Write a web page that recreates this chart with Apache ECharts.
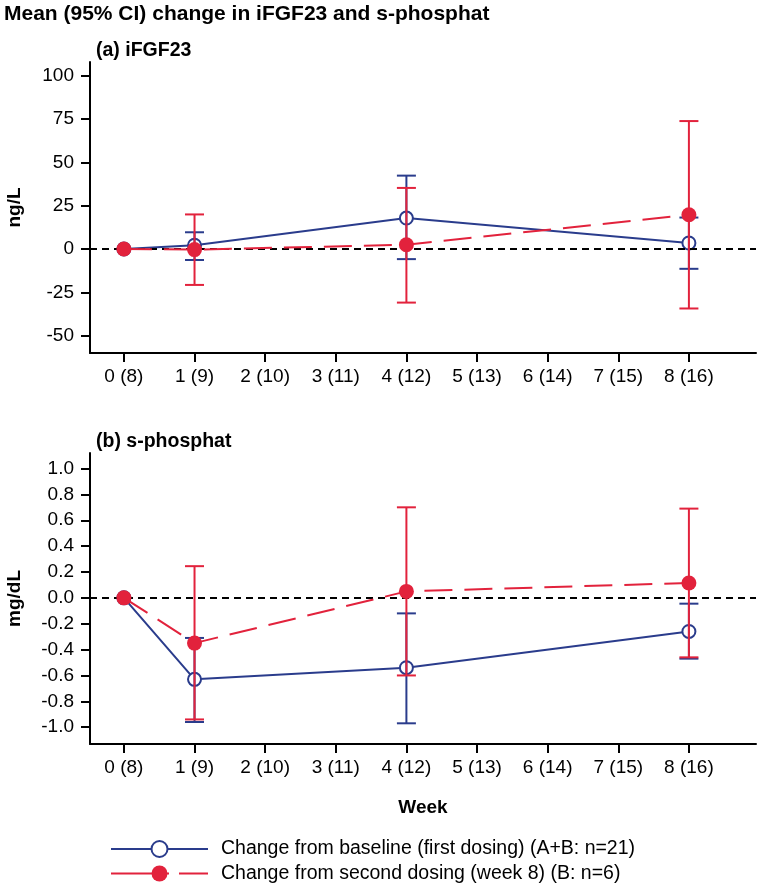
<!DOCTYPE html>
<html><head><meta charset="utf-8">
<script src="https://cdn.jsdelivr.net/npm/echarts@6/dist/echarts.min.js"></script>
<style>html,body{margin:0;padding:0;background:#fff}#c{width:760px;height:885px}</style>
</head><body><div id="c"></div>
<script>
// ---- data ----
const weeks = [0, 1, 4, 8];
const weekTicks = [0, 1, 2, 3, 4, 5, 6, 7, 8];
const weekLabels = ['0 (8)', '1 (9)', '2 (10)', '3 (11)', '4 (12)', '5 (13)', '6 (14)', '7 (15)', '8 (16)'];
const fgfTicks = [-50, -25, 0, 25, 50, 75, 100];
const phosTicks = [-1.0, -0.8, -0.6, -0.4, -0.2, 0, 0.2, 0.4, 0.6, 0.8, 1.0];
const seriesNames = ['Change from baseline (first dosing) (A+B: n=21)', 'Change from second dosing (week 8) (B: n=6)'];

const fgfBaseMean = [0, 2.2, 17.9, 3.5];
const fgfBaseLow = [null, -6.3, -5.8, -11.4];
const fgfBaseHigh = [null, 9.7, 42.4, 18.2];
const fgfSecMean = [0, -0.3, 2.5, 19.8];
const fgfSecLow = [null, -20.7, -30.9, -34.3];
const fgfSecHigh = [null, 20.0, 35.3, 73.9];

const phosBaseMean = [0, -0.63, -0.54, -0.26];
const phosBaseLow = [null, -0.96, -0.97, -0.47];
const phosBaseHigh = [null, -0.31, -0.12, -0.045];
const phosSecMean = [0, -0.35, 0.05, 0.115];
const phosSecLow = [null, -0.94, -0.60, -0.46];
const phosSecHigh = [null, 0.245, 0.70, 0.69];

// ---- style ----
const FONT = '"Liberation Sans", Arial, sans-serif';
const BLUE = '#2a3c8c';
const RED = '#e2223c';

function pts(mean) { return weeks.map((w, i) => [w, mean[i]]); }
function errs(lo, hi) {
  const out = [];
  weeks.forEach((w, i) => { if (lo[i] != null) out.push([w, lo[i], hi[i]]); });
  return out;
}
function errRender(color) {
  return function (params, api) {
    const x = api.value(0), lo = api.value(1), hi = api.value(2);
    const p1 = api.coord([x, lo]), p2 = api.coord([x, hi]);
    const hw = 9.5;
    const style = { stroke: color, lineWidth: 2, fill: null };
    return { type: 'group', children: [
      { type: 'line', shape: { x1: p1[0], y1: p1[1], x2: p2[0], y2: p2[1] }, style: style },
      { type: 'line', shape: { x1: p1[0] - hw, y1: p1[1], x2: p1[0] + hw, y2: p1[1] }, style: style },
      { type: 'line', shape: { x1: p2[0] - hw, y1: p2[1], x2: p2[0] + hw, y2: p2[1] }, style: style }
    ]};
  };
}

function xAxis(gi) {
  return {
    type: 'value', gridIndex: gi, min: -0.48, max: 8.95,
    name: gi === 1 ? 'Week' : '', nameLocation: 'middle', nameGap: 54,
    nameTextStyle: { fontFamily: FONT, fontSize: 19, fontWeight: 'bold', color: '#000' },
    axisLine: { onZero: false, lineStyle: { color: '#000', width: 2 } },
    axisTick: { show: true, length: 9, lineStyle: { color: '#000', width: 2 }, customValues: weekTicks },
    axisLabel: { margin: 14, fontFamily: FONT, fontSize: 19, color: '#000', customValues: weekTicks,
      formatter: v => weekLabels[weekTicks.indexOf(Math.round(v))] || '' },
    splitLine: { show: false }
  };
}
function yAxis(gi, min, max, ticks, name, fmt) {
  return {
    type: 'value', gridIndex: gi, min: min, max: max,
    name: name, nameLocation: 'middle', nameGap: 66,
    nameTextStyle: { fontFamily: FONT, fontSize: 19, fontWeight: 'bold', color: '#000' },
    axisLine: { show: true, onZero: false, lineStyle: { color: '#000', width: 2 } },
    axisTick: { show: true, length: 9, lineStyle: { color: '#000', width: 2 }, customValues: ticks },
    axisLabel: { margin: 16, fontFamily: FONT, fontSize: 19, color: '#000', customValues: ticks, formatter: fmt },
    splitLine: { show: false }
  };
}

function lineSeries(name, gi, mean, color, isBase) {
  const s = {
    type: 'line', name: name, xAxisIndex: gi, yAxisIndex: gi,
    data: pts(mean), z: isBase ? 3 : 6,
    lineStyle: { color: color, width: 2, type: isBase ? 'solid' : [28, 12] },
    symbol: isBase ? 'emptyCircle' : 'circle',
    symbolSize: isBase ? 13 : 15,
    itemStyle: isBase ? { color: color, borderWidth: 2 } : { color: color, borderWidth: 0 },
    animation: false, silent: true
  };
  if (isBase) {
    s.markLine = { silent: true, symbol: ['none', 'none'], label: { show: false },
      lineStyle: { color: '#000', type: [7, 5], width: 2 }, data: [{ yAxis: 0 }], animation: false };
  }
  return s;
}
function errSeries(gi, lo, hi, color, z) {
  return { type: 'custom', name: 'err' + gi + color, xAxisIndex: gi, yAxisIndex: gi,
    data: errs(lo, hi), renderItem: errRender(color), z: z, silent: true, animation: false,
    encode: { x: 0, y: [1, 2] } };
}

const chart = echarts.init(document.getElementById('c'), null, { renderer: 'canvas' });
chart.setOption({
  backgroundColor: '#fff',
  animation: false,
  title: [
    { text: 'Mean (95% CI) change in iFGF23 and s-phosphat', left: 4, top: 4, padding: 0,
      textStyle: { fontFamily: FONT, fontSize: 21, fontWeight: 'bold', color: '#000' } },
    { text: '(a) iFGF23', left: 96, top: 41, padding: 0,
      textStyle: { fontFamily: FONT, fontSize: 19.5, fontWeight: 'bold', color: '#000' } },
    { text: '(b) s-phosphat', left: 96, top: 432, padding: 0,
      textStyle: { fontFamily: FONT, fontSize: 19.5, fontWeight: 'bold', color: '#000' } }
  ],
  grid: [
    { left: 90, top: 62, width: 666, height: 291, containLabel: false, outerBoundsMode: 'none' },
    { left: 90, top: 453, width: 666, height: 291, containLabel: false, outerBoundsMode: 'none' }
  ],
  xAxis: [xAxis(0), xAxis(1)],
  yAxis: [
    yAxis(0, -60, 108, fgfTicks, 'ng/L', v => String(v)),
    yAxis(1, -1.13, 1.12, phosTicks, 'mg/dL', v => v.toFixed(1))
  ],
  legend: {
    orient: 'vertical', left: 110, top: 839, padding: 0, itemWidth: 97, itemHeight: 20, itemGap: 4.5,
    selectedMode: false,
    data: [
      { name: seriesNames[0] },
      { name: seriesNames[1], lineStyle: { type: [58, 10, 40] } }
    ],
    textStyle: { fontFamily: FONT, fontSize: 19.5, color: '#000', padding: [0, 0, 0, 8] }
  },
  series: [
    lineSeries(seriesNames[0], 0, fgfBaseMean, BLUE, true),
    errSeries(0, fgfBaseLow, fgfBaseHigh, BLUE, 4),
    errSeries(0, fgfSecLow, fgfSecHigh, RED, 5),
    lineSeries(seriesNames[1], 0, fgfSecMean, RED, false),
    lineSeries(seriesNames[0], 1, phosBaseMean, BLUE, true),
    errSeries(1, phosBaseLow, phosBaseHigh, BLUE, 4),
    errSeries(1, phosSecLow, phosSecHigh, RED, 5),
    lineSeries(seriesNames[1], 1, phosSecMean, RED, false)
  ]
});
</script>
</body></html>
